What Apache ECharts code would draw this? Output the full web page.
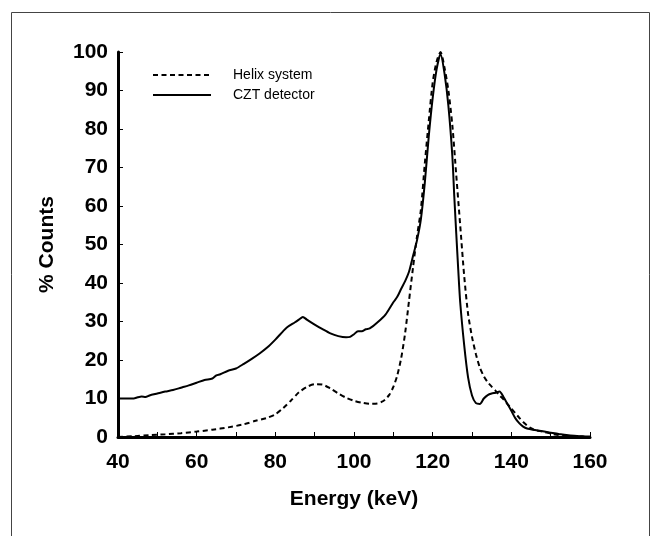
<!DOCTYPE html>
<html>
<head>
<meta charset="utf-8">
<script src="https://cdn.jsdelivr.net/npm/echarts@6/dist/echarts.min.js"></script>
<style>
  html, body { margin: 0; padding: 0; background: #fff; }
  #main { width: 653px; height: 536px; }
</style>
</head>
<body>
<div id="main"></div>
<script>
// energy (keV) / % counts
var cztEnergy = [40, 42, 44, 45, 46, 47, 48, 50, 52, 54, 56, 58, 60, 62, 64, 65, 66, 68, 70, 72, 74, 76, 78, 80, 82, 83, 85, 86, 87, 88, 90, 92, 94, 96, 98, 99, 100, 101, 102, 103, 104, 106, 108, 110, 111, 112, 113, 114, 115, 116, 117, 118, 119, 120, 121, 122, 123, 124, 125, 125.5, 126, 126.5, 127, 128, 129, 130, 131, 132, 133, 134, 135, 136, 137, 138, 139, 140, 141, 142, 143, 144, 146, 148, 150, 152, 154, 156, 158, 160];
var cztCounts = [10, 10, 10, 10.3, 10.5, 10.4, 10.8, 11.3, 11.8, 12.2, 12.8, 13.4, 14.1, 14.8, 15.2, 16, 16.3, 17.2, 17.8, 19, 20.3, 21.7, 23.3, 25.3, 27.5, 28.5, 29.8, 30.5, 31.2, 30.5, 29.2, 28, 26.9, 26.2, 25.9, 26, 26.7, 27.5, 27.5, 28, 28.2, 29.8, 31.8, 35, 36.4, 38.5, 40.5, 43, 47, 51, 56.5, 66, 78, 88, 95.5, 99.5, 94.5, 86, 73, 62.4, 52.8, 43.5, 35, 24, 15.5, 10.8, 8.8, 8.6, 10, 10.9, 11.3, 11.5, 11.8, 10.4, 8.6, 6.8, 4.9, 3.6, 2.7, 2.2, 1.8, 1.5, 1.1, 0.8, 0.5, 0.3, 0.2, 0.1];

var helixEnergy = [40, 44, 48, 52, 56, 60, 64, 68, 72, 75, 78, 80, 82, 84, 86, 88, 90, 92, 94, 96, 98, 100, 102, 104, 106, 107, 108, 109, 110, 111, 112, 113, 114, 115, 116, 117, 118, 119, 120, 121, 122, 123, 124, 125, 126, 127, 128, 129, 130, 131, 132, 133, 134, 135, 136, 137, 138, 139, 140, 141, 142, 143, 144, 145, 146, 148, 150, 152, 154, 156, 158, 160];
var helixCounts = [0, 0.2, 0.5, 0.7, 1.0, 1.4, 1.9, 2.5, 3.3, 4.2, 5, 5.9, 7.5, 9.5, 11.6, 13, 13.7, 13.6, 12.6, 11.3, 10.2, 9.4, 8.9, 8.6, 8.7, 9.1, 9.8, 11, 13, 16, 20.5, 27, 35.5, 44, 52, 59, 71, 82, 92, 97.5, 100, 96, 90, 81, 68, 55, 42, 32, 26, 21.5, 18, 15.8, 14.2, 13.1, 12, 10.8, 9.8, 8.6, 7.4, 6.2, 5, 3.9, 3, 2.3, 1.8, 1.4, 0.9, 0.5, 0.4, 0.2, 0.1, 0];

var xTicks = [40, 60, 80, 100, 120, 140, 160];
var yTicks = [0, 10, 20, 30, 40, 50, 60, 70, 80, 90, 100];

function pairs(xs, ys) {
  return xs.map(function (x, i) { return [x, ys[i]]; });
}

var font = '"Liberation Sans", Arial, Helvetica, sans-serif';

var myChart = echarts.init(document.getElementById('main'));

var option = {
  backgroundColor: '#fff',
  animation: false,
  graphic: [{
    type: 'rect',
    shape: { x: 11.5, y: 12.5, width: 638, height: 540 },
    style: { fill: 'none', stroke: '#444', lineWidth: 1 },
    silent: true
  }],
  legend: {
    orient: 'vertical',
    left: 152,
    top: 68,
    padding: 0,
    itemGap: 6,
    itemWidth: 58,
    itemHeight: 14,
    itemStyle: { opacity: 0 },
    textStyle: { fontFamily: font, fontSize: 14, color: '#000', padding: [0, 0, 0, 17] },
    data: ['Helix system', 'CZT detector']
  },
  grid: { left: 118, right: 63, top: 52, bottom: 99 },
  xAxis: {
    type: 'value',
    min: 40,
    max: 160,
    interval: 20,
    name: 'Energy (keV)',
    nameLocation: 'middle',
    nameGap: 52,
    nameTextStyle: { fontFamily: font, fontSize: 21, fontWeight: 'bold', color: '#000' },
    axisLine: { lineStyle: { color: '#000', width: 3 } },
    axisTick: { inside: true, length: 5, lineStyle: { color: '#000', width: 1 } },
    minorTick: { show: true, splitNumber: 2, length: 5, lineStyle: { color: '#000', width: 1 } },
    axisLabel: {
      fontFamily: font, fontSize: 21, fontWeight: 'bold', color: '#000', margin: 15,
      formatter: function (v) { return xTicks.indexOf(v) >= 0 ? String(v) : ''; }
    },
    splitLine: { show: false }
  },
  yAxis: {
    type: 'value',
    min: 0,
    max: 100,
    interval: 10,
    name: '% Counts',
    nameLocation: 'middle',
    nameGap: 60,
    nameTextStyle: { fontFamily: font, fontSize: 21, fontWeight: 'bold', color: '#000' },
    axisLine: { show: true, lineStyle: { color: '#000', width: 3 } },
    axisTick: { show: true, inside: true, length: 5, lineStyle: { color: '#000', width: 1 } },
    minorTick: { show: true, splitNumber: 2, length: 2, lineStyle: { color: '#000', width: 1 } },
    axisLabel: {
      fontFamily: font, fontSize: 21, fontWeight: 'bold', color: '#000', margin: 10,
      formatter: function (v) { return yTicks.indexOf(v) >= 0 ? String(v) : ''; }
    },
    splitLine: { show: false }
  },
  series: [
    {
      name: 'Helix system',
      type: 'line',
      data: pairs(helixEnergy, helixCounts),
      symbol: 'none',
      smooth: 0.25,
      lineStyle: { color: '#000', width: 2, type: [5, 3.5] },
      itemStyle: { color: '#000' },
      z: 3
    },
    {
      name: 'CZT detector',
      type: 'line',
      data: pairs(cztEnergy, cztCounts),
      symbol: 'none',
      smooth: 0.25,
      lineStyle: { color: '#000', width: 2 },
      itemStyle: { color: '#000' },
      z: 2
    }
  ]
};

myChart.setOption(option);
</script>
</body>
</html>
